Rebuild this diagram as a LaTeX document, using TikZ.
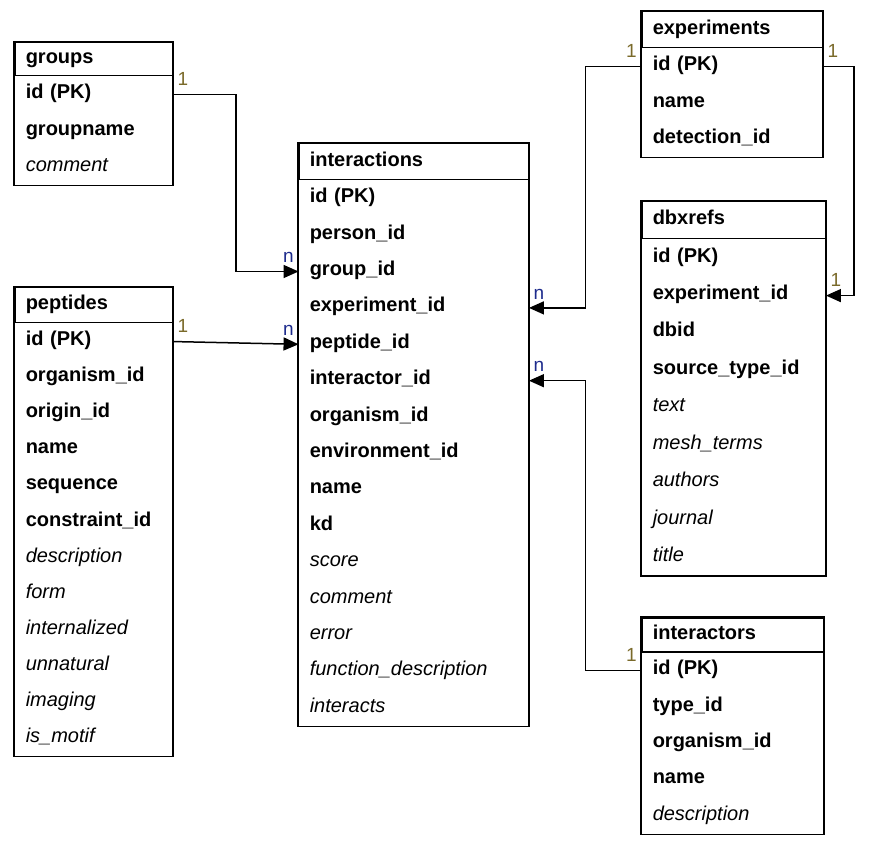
\documentclass[tikz,border=0pt]{standalone}
\usepackage{fontspec}
\setmainfont{Liberation Sans}
\usepackage{tikz}
\usetikzlibrary{positioning, arrows.meta}

\definecolor{onecol}{HTML}{7A6A2A}
\definecolor{manycol}{HTML}{1C2A8C}
\newcommand{\tblfont}{\fontsize{20}{24}\selectfont}

\tikzset{
  head/.style={draw, line width=1.5pt, anchor=north west, inner xsep=11pt,
    align=left, text height=14pt, text depth=5pt, font=\tblfont\bfseries},
  key/.style={inner xsep=11pt, align=left, text height=13pt, text depth=5pt,
    font=\tblfont\bfseries},
  opt/.style={key, font=\tblfont\itshape},
  box/.style={line width=1.5pt},
  fk/.style={line width=1.5pt, -{Triangle[length=15pt,width=13pt]}},
  one/.style={text=onecol, font=\fontsize{19}{22}\selectfont, inner xsep=4pt, inner ysep=8pt},
  many/.style={text=manycol, font=\fontsize{19}{22}\selectfont, inner xsep=4pt, inner ysep=8pt}
}

\begin{document}
\begin{tikzpicture}[x=1pt,y=-1pt]
    \useasboundingbox (0,0) rectangle (871,842);

    % groups
    \begin{scope}[every node/.append style={text width=136pt, minimum height=36pt}]
    \node[head, minimum height=33pt] (g-title) at (14,42) {groups};
    \node[key] (g-id) [below=0pt of g-title] {id (PK)};
    \node[key] (g-name) [below=0pt of g-id] {groupname};
    \node[opt] (g-comment) [below=0pt of g-name] {comment};
    \end{scope}
    \draw[box] (g-title.north west) rectangle (g-comment.south east);

    % peptides
    \begin{scope}[every node/.append style={text width=136pt, minimum height=35.7pt}]
    \node[head, minimum height=35pt] (p-title) at (14,287) {peptides};
    \node[key] (p-id) [below=0pt of p-title] {id (PK)};
    \node[key] (p-org) [below=0pt of p-id] {organism\_id};
    \node[key] (p-origin) [below=0pt of p-org] {origin\_id};
    \node[key] (p-name) [below=0pt of p-origin] {name};
    \node[key] (p-seq) [below=0pt of p-name] {sequence};
    \node[key] (p-constr) [below=0pt of p-seq] {constraint\_id};
    \node[opt] (p-descr) [below=0pt of p-constr] {description};
    \node[opt] (p-form) [below=0pt of p-descr] {form};
    \node[opt] (p-intern) [below=0pt of p-form] {internalized};
    \node[opt] (p-unnat) [below=0pt of p-intern] {unnatural};
    \node[opt] (p-imaging) [below=0pt of p-unnat] {imaging};
    \node[opt] (p-motif) [below=0pt of p-imaging] {is\_motif};
    \end{scope}
    \draw[box] (p-title.north west) rectangle (p-motif.south east);

    % interactions
    \begin{scope}[every node/.append style={text width=208pt, minimum height=36pt}]
    \node[head, minimum height=36pt] (i-title) at (298,143) {interactions};
    \node[key] (i-id) [below=0pt of i-title] {id (PK)};
    \node[key] (i-person) [below=0pt of i-id] {person\_id};
    \node[key] (i-group) [below=0pt of i-person] {group\_id};
    \node[key] (i-exp) [below=0pt of i-group] {experiment\_id};
    \node[key] (i-pep) [below=0pt of i-exp] {peptide\_id};
    \node[key] (i-inter) [below=0pt of i-pep] {interactor\_id};
    \node[key] (i-org) [below=0pt of i-inter] {organism\_id};
    \node[key] (i-env) [below=0pt of i-org] {environment\_id};
    \node[key] (i-name) [below=0pt of i-env] {name};
    \node[key] (i-kd) [below=0pt of i-name] {kd};
    \node[opt] (i-score) [below=0pt of i-kd] {score};
    \node[opt] (i-comment) [below=0pt of i-score] {comment};
    \node[opt] (i-error) [below=0pt of i-comment] {error};
    \node[opt] (i-func) [below=0pt of i-error] {function\_description};
    \node[opt] (i-interacts) [below=0pt of i-func] {interacts};
    \end{scope}
    \draw[box] (i-title.north west) rectangle (i-interacts.south east);

    % experiments
    \begin{scope}[every node/.append style={text width=159pt, minimum height=36pt}]
    \node[head, minimum height=36pt] (e-title) at (641,11) {experiments};
    \node[key] (e-id) [below=0pt of e-title] {id (PK)};
    \node[key] (e-name) [below=0pt of e-id] {name};
    \node[key] (e-detect) [below=0pt of e-name] {detection\_id};
    \end{scope}
    \draw[box] (e-title.north west) rectangle (e-detect.south east);

    % dbxrefs
    \begin{scope}[every node/.append style={text width=162pt, minimum height=37pt}]
    \node[head, minimum height=37pt] (d-title) at (641,201) {dbxrefs};
    \node[key] (d-id) [below=0pt of d-title] {id (PK)};
    \node[key] (d-exp) [below=0pt of d-id] {experiment\_id};
    \node[key] (d-dbid) [below=0pt of d-exp] {dbid};
    \node[key] (d-source) [below=0pt of d-dbid] {source\_type\_id};
    \node[opt] (d-text) [below=0pt of d-source] {text};
    \node[opt] (d-mesh) [below=0pt of d-text] {mesh\_terms};
    \node[opt] (d-authors) [below=0pt of d-mesh] {authors};
    \node[opt] (d-journal) [below=0pt of d-authors] {journal};
    \node[opt] (d-titlef) [below=0pt of d-journal] {title};
    \end{scope}
    \draw[box] (d-title.north west) rectangle (d-titlef.south east);

    % interactors
    \begin{scope}[every node/.append style={text width=160pt, minimum height=36pt}]
    \node[head, minimum height=34pt] (r-title) at (641,617) {interactors};
    \node[key] (r-id) [below=0pt of r-title] {id (PK)};
    \node[key] (r-type) [below=0pt of r-id] {type\_id};
    \node[key] (r-org) [below=0pt of r-type] {organism\_id};
    \node[key] (r-name) [below=0pt of r-org] {name};
    \node[opt] (r-descr) [below=0pt of r-name] {description};
    \end{scope}
    \draw[box] (r-title.north west) rectangle (r-descr.south east);

    % relations
    \draw[fk] (g-id.east) node[one, above right] (l-g1) {1}
        -- ++(63,0) |- (i-group.west) node[many, above left] (l-gn) {n};
    \draw[fk] (p-id.east) node[one, above right] (l-p1) {1}
        -- (i-pep.west) node[many, above left] (l-pn) {n};
    \draw[fk] (e-id.west) node[one, above left] (l-e1) {1}
        -- ++(-56,0) |- (i-exp.east) node[many, above right] (l-en) {n};
    \draw[fk] (r-id.west) node[one, above left] (l-r1) {1}
        -- ++(-56,0) |- (i-inter.east) node[many, above right] (l-rn) {n};
    \draw[fk] (e-id.east) node[one, above right] (l-e2) {1}
        -- ++(31,0) |- (d-exp.east) node[one, above right] (l-d1) {1};
\end{tikzpicture}
\end{document}
